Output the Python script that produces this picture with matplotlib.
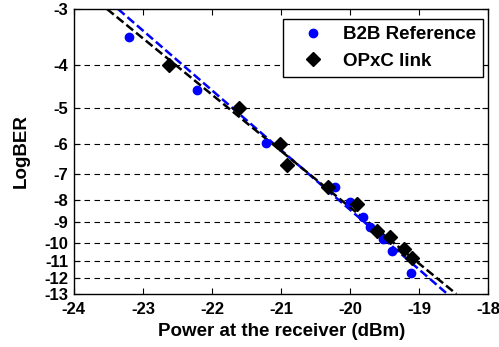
import numpy as np
import matplotlib
matplotlib.use("Agg")
import matplotlib.pyplot as plt

plt.rcParams['font.family'] = ['Liberation Sans', 'DejaVu Sans']
plt.rcParams['font.weight'] = 'bold'

# B2B reference data
b2b_power = [-23.20, -22.22, -21.22, -20.22, -20.00, -19.81, -19.71, -19.52, -19.39, -19.12]
b2b_logber = [-3.47, -4.55, -5.98, -7.5, -8.1, -8.76, -9.2, -9.8, -10.4, -11.7]

# OPxC link data
opxc_power = [-22.62, -21.61, -21.01, -20.91, -20.32, -19.90, -19.61, -19.42, -19.22, -19.10]
opxc_logber = [-4.0, -5.0, -6.0, -6.7, -7.5, -8.2, -9.4, -9.7, -10.3, -10.8]

# Linear fit lines (endpoints)
b2b_fit_power = [-23.36, -18.59]
opxc_fit_power = [-23.52, -18.46]
fit_logber = [-3, -13]

yticks = [-3, -4, -5, -6, -7, -8, -9, -10, -11, -12, -13]
xticks = [-24, -23, -22, -21, -20, -19, -18]

def fwd(y):
    y = np.asarray(y, dtype=float)
    return -np.log10(np.clip(-y, 1e-9, None))

def inv(t):
    t = np.asarray(t, dtype=float)
    return -10.0 ** (-t)

fig = plt.figure(figsize=(4.99, 3.47), dpi=100)
ax = fig.add_axes([0.148, 0.153, 0.830, 0.821])
ax.set_yscale('function', functions=(fwd, inv))

for yt in yticks[1:-1]:
    ax.axhline(yt, color='black', lw=0.8, ls=(0, (5, 4)), zorder=1)

ax.plot(b2b_fit_power, fit_logber, color='blue', lw=1.8, ls=(0, (3.5, 1.5)), zorder=2)
ax.plot(opxc_fit_power, fit_logber, color='black', lw=1.8, ls=(0, (3.5, 1.5)), zorder=2)

ax.plot(b2b_power, b2b_logber, 'o', color='blue', ms=6, mec='blue', label='B2B Reference', zorder=3)
ax.plot(opxc_power, opxc_logber, 'D', color='black', ms=7, label='OPxC link', zorder=3)

ax.set_xlim(-24, -18)
ax.set_ylim(-13, -3)
ax.set_xticks(xticks)
ax.set_xticklabels([str(v) for v in xticks])
ax.set_yticks(yticks)
ax.set_yticklabels([str(v) for v in yticks])
ax.yaxis.set_minor_locator(matplotlib.ticker.NullLocator())
ax.tick_params(direction='in', top=True, right=True, labelsize=12, length=4)
ax.tick_params(axis='x', pad=6)
ax.tick_params(axis='y', pad=4)
for lab in ax.get_xticklabels() + ax.get_yticklabels():
    lab.set_fontweight('bold')
for s in ax.spines.values():
    s.set_linewidth(1.0)

ax.set_xlabel('Power at the receiver (dBm)', fontsize=13.5, fontweight='bold', va='center')
ax.set_ylabel('LogBER', fontsize=13.5, fontweight='bold', va='center')
ax.xaxis.set_label_coords(0.502, -0.133)
ax.yaxis.set_label_coords(-0.128, 0.502)

leg = ax.legend(loc='upper right', fontsize=13.5, frameon=True, fancybox=False,
                edgecolor='black', framealpha=1, handletextpad=0.45, borderpad=0.4,
                labelspacing=0.5, handlelength=2.3, borderaxespad=0,
                bbox_to_anchor=(0.988, 0.966))
leg.get_frame().set_linewidth(1.0)
for t in leg.get_texts():
    t.set_fontweight('bold')

fig.savefig('out.png', dpi=100)
